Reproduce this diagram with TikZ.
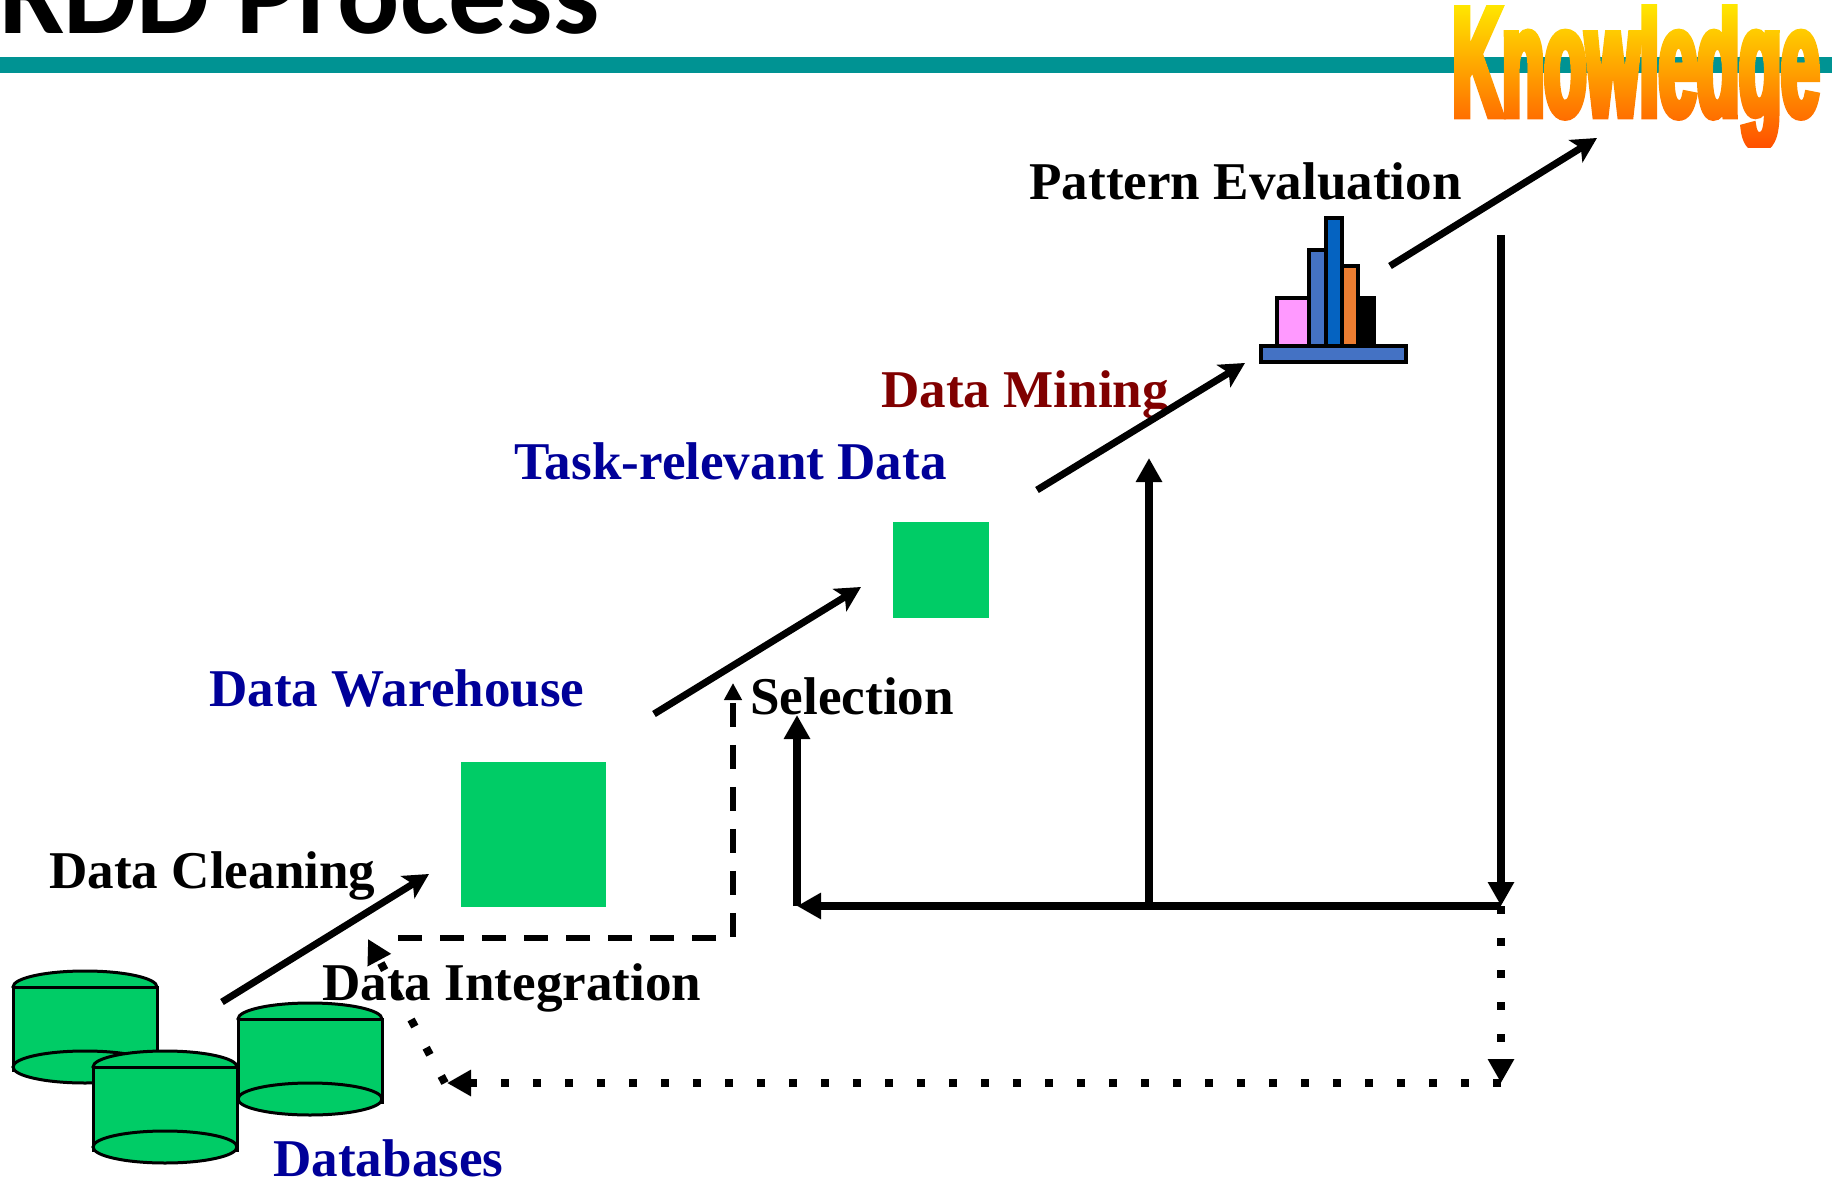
\documentclass[tikz,border=0pt]{standalone}
\usepackage{fontspec}
\setmainfont{Liberation Serif}
\newfontfamily\titlefont{Carlito}
\newfontfamily\knowledgefont{Liberation Sans}[FakeStretch=0.438,FakeBold=4]
\usetikzlibrary{arrows.meta}
\usetikzlibrary{fadings}
\usetikzlibrary{positioning}

\definecolor{barteal}{HTML}{009393}
\definecolor{dbgreen}{HTML}{00CC66}
\definecolor{labblue}{HTML}{000099}
\definecolor{labred}{HTML}{800000}
\definecolor{histpink}{HTML}{FF99FF}
\definecolor{histblue}{HTML}{4472C4}
\definecolor{histdark}{HTML}{0563C1}
\definecolor{historange}{HTML}{ED7D31}
\definecolor{wordtop}{HTML}{FFE600}
\definecolor{wordmid}{HTML}{FFB400}
\definecolor{wordlow}{HTML}{FF5000}

\tikzset{
  lab/.style={anchor=base west, inner sep=0pt, font=\fontsize{26.55}{30}\selectfont\bfseries},
  cyl/.style={draw=black, fill=dbgreen, line width=1.5pt},
  hist/.style={draw=black, line width=1.7pt},
  stepline/.style={line width=3.5pt, -{Stealth[length=12.5pt, width=13pt, inset=3pt]}},
  loopline/.style={line width=3.9pt, -{Triangle[length=12pt, width=12.5pt]}},
  dashline/.style={line width=3pt, dash pattern=on 12pt off 9pt},
  dotline/.style={line width=4pt, dash pattern=on 4pt off 12pt},
}

\begin{tikzfadingfrompicture}[name=knowledgefade]
  \node[text=transparent!0, inner sep=0pt, font=\fontsize{78.5}{80}\selectfont\knowledgefont\bfseries] (knowledgemask) {Knowledge};
\end{tikzfadingfrompicture}

\begin{document}
\begin{tikzpicture}[x=0.5pt, y=-0.5pt]
  \useasboundingbox (0, 0) rectangle (1832, 1182);

  \fill[barteal] (0, 57) rectangle (1832, 73);
  \node[anchor=base west, inner sep=0pt, font=\fontsize{58}{60}\selectfont\titlefont\bfseries] (kddtitle) at (0, 34) {KDD Process};

  \shade[path fading=knowledgefade, fit fading=false, fading transform={shift={(1636, 76)}}, top color=wordtop, middle color=wordmid, bottom color=wordlow]
    (1445, 5) rectangle (1827, 148);

  % databases
  \foreach \cx / \cy in {85/987, 310/1019, 165/1067} {
    \begin{scope}[shift={(\cx, \cy)}]
      \draw[cyl] (0, 0) ellipse [x radius=72, y radius=16];
      \draw[cyl] (-72, 0) rectangle (72, 80);
      \draw[line width=1.5pt] (-72, 80) -- +(0, 5);
      \draw[line width=1.5pt] (72, 80) -- +(0, 5);
      \draw[cyl] (0, 80) ellipse [x radius=72, y radius=16];
    \end{scope}
  }

  \node[fill=dbgreen, minimum size=72.5pt, inner sep=0pt] (warehouse) at (533, 834) {};
  \node[fill=dbgreen, minimum size=48pt, inner sep=0pt] (taskdata) at (941, 570) {};

  % histogram
  \foreach \xa / \xb / \ytop / \col in {1277/1309/298/histpink, 1309/1326/250/histblue, 1326/1342/218/histdark, 1342/1358/266/historange, 1358/1374/298/black} {
    \draw[hist, fill=\col] (\xa, \ytop) rectangle (\xb, 346);
  }
  \draw[hist, fill=histblue] (1261, 346) rectangle (1406, 362);

  \node[lab, text=labblue] (databases) at (273, 1176) {Databases};
  \node[lab] (cleaning) at (49, 888) {Data Cleaning};
  \node[lab] (integration) at (322, 1000) {Data Integration};
  \node[lab, text=labblue] (warelab) at (209, 706) {Data Warehouse};
  \node[lab] (selection) at (750, 714) {Selection};
  \node[lab, text=labblue] (tasklab) at (514, 479) {Task-relevant Data};
  \node[lab, text=labred] (mining) at (881, 408) {Data Mining};
  \node[lab] (evaluation) at (1029, 200) {Pattern Evaluation};

  \coordinate (a1) at (222, 1002);
  \coordinate (b1) at (429, 874);
  \coordinate (a2) at (654, 714);
  \coordinate (b2) at (861, 587);
  \coordinate (a3) at (1037, 490);
  \coordinate (b3) at (1245, 363);
  \coordinate (a4) at (1390, 266);
  \coordinate (b4) at (1597, 138);

  \foreach \i in {1, 2, 3, 4} {
    \draw[stepline] (a\i) -- (b\i);
  }

  \coordinate (backtop) at (1501, 235);
  \coordinate (backcorner) at (1501, 906);
  \coordinate (backleft) at (797, 906);
  \coordinate (selecttip) at (797, 715);
  \coordinate (backmid) at (1149, 906);
  \coordinate (minetip) at (1149, 458);
  \coordinate (dotcorner) at (1501, 1083);
  \coordinate (dotleft) at (447, 1083);
  \coordinate (dotstart) at (445, 1083);
  \coordinate (dottip) at (368, 939);
  \coordinate (dashstart) at (397, 938);
  \coordinate (dashcorner) at (733, 938);
  \coordinate (dashtip) at (733, 683);

  \draw[loopline] (backtop) -- (backcorner);
  \draw[loopline] (backcorner) -- (backleft);
  \draw[loopline] (backleft) -- (selecttip);
  \draw[loopline] (backmid) -- (minetip);

  \draw[dotline, -{Triangle[length=12pt, width=12.5pt]}] (backcorner) -- (dotcorner);
  \draw[dotline, -{Triangle[length=12pt, width=12.5pt]}] (dotcorner) -- (dotleft);
  \draw[dotline, -{Triangle[length=12pt, width=12.5pt]}] (dotstart) -- (dottip);

  \draw[dashline, dash phase=19pt, {Triangle[length=8.5pt, width=8.5pt]}-] (dashtip) -- (dashcorner) -- (dashstart);
\end{tikzpicture}
\end{document}
